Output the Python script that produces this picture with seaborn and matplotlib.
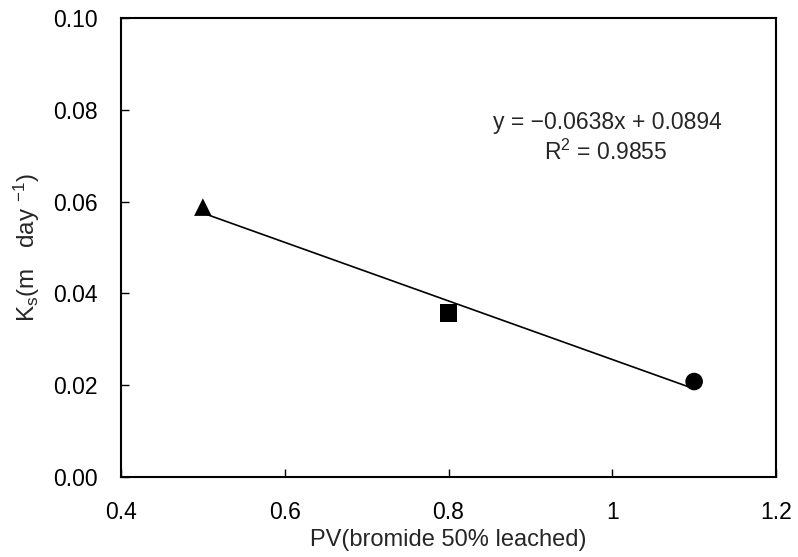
import numpy as np
import pandas as pd
import matplotlib
matplotlib.use("Agg")
import matplotlib.pyplot as plt
import seaborn as sns

# Measured points: pore volumes at 50% bromide leached vs. saturated conductivity
pv = [0.5, 0.8, 1.1]
ks = [0.0588, 0.0357, 0.0208]
soil = ["A", "B", "C"]
marker_shapes = {"A": "^", "B": "s", "C": "o"}

# Linear trend
slope = -0.0638
intercept = 0.0894
r2 = 0.9855

x_ticks = [0.4, 0.6, 0.8, 1.0, 1.2]
x_tick_labels = ["0.4", "0.6", "0.8", "1", "1.2"]
y_ticks = [0.00, 0.02, 0.04, 0.06, 0.08, 0.10]
y_tick_labels = ["0.00", "0.02", "0.04", "0.06", "0.08", "0.10"]

sns.set_theme(style="ticks")
plt.rcParams["font.family"] = ["Liberation Sans", "DejaVu Sans"]
plt.rcParams["mathtext.fontset"] = "custom"
plt.rcParams["mathtext.rm"] = "Liberation Sans"
plt.rcParams["mathtext.it"] = "Liberation Sans"

fig = plt.figure(figsize=(7.98, 5.57), dpi=100)
ax = fig.add_axes([121 / 798, 1 - 477 / 557, (776 - 121) / 798, (477 - 18) / 557])

pts = pd.DataFrame({"PV": pv, "Ks": ks, "soil": soil})
trend_x = np.array([min(pv), max(pv)])
trend = pd.DataFrame({"PV": trend_x, "Ks": slope * trend_x + intercept})

sns.lineplot(data=trend, x="PV", y="Ks", color="black", linewidth=1.2, ax=ax)
sns.scatterplot(data=pts, x="PV", y="Ks", style="soil", markers=marker_shapes,
                color="black", s=160, edgecolor="black", linewidth=0, legend=False,
                ax=ax, zorder=3)

ax.set_xlim(0.4, 1.2)
ax.set_ylim(0.0, 0.10)
ax.set_xticks(x_ticks)
ax.set_xticklabels(x_tick_labels)
ax.set_yticks(y_ticks)
ax.set_yticklabels(y_tick_labels)
ax.tick_params(direction="in", length=6, width=1, labelsize=16.5, colors="black")
ax.tick_params(axis="y", pad=17)
ax.tick_params(axis="x", pad=17)
for sp in ax.spines.values():
    sp.set_visible(True)
    sp.set_linewidth(1.5)
    sp.set_color("black")

ax.set_xlabel("PV(bromide 50% leached)", fontsize=17, labelpad=4)
ax.set_ylabel(r"K$_\mathrm{s}$(m   day $^{-1}$)", fontsize=17.5, labelpad=8)

ax.text(0.994, 0.0773, f"y = \u2212{abs(slope):.4f}x + {intercept:.4f}",
        ha="center", va="center", fontsize=16.5)
ax.text(0.992, 0.0708, f"R$^2$ = {r2:.4f}", ha="center", va="center", fontsize=16.5)

fig.savefig("out.png", dpi=100)
